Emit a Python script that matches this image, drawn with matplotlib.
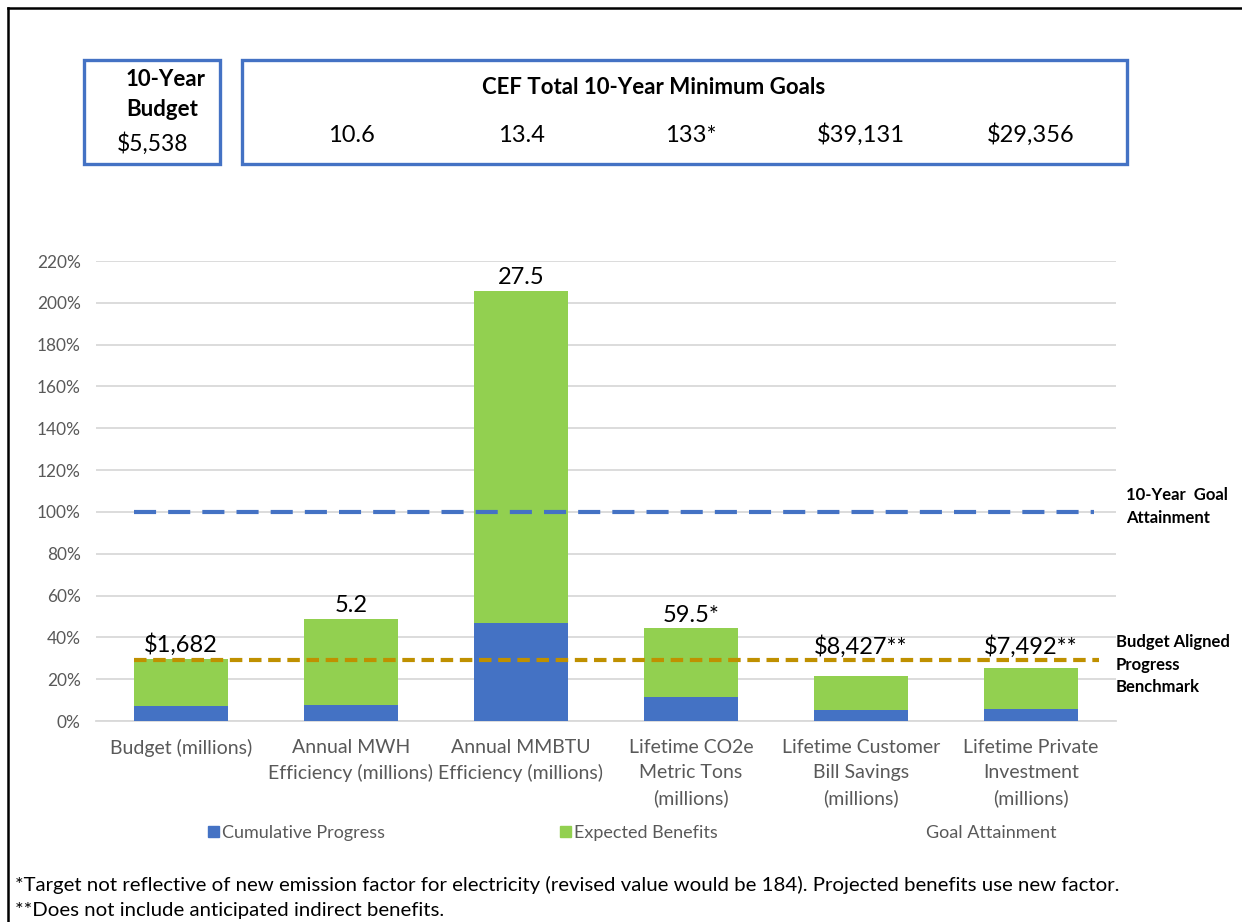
import matplotlib.pyplot as plt
import matplotlib.transforms as mtransforms
from matplotlib.patches import Patch, Rectangle
from matplotlib.lines import Line2D

plt.rcParams['font.family'] = ['Lato', 'DejaVu Sans']

W, H = 1242, 922

categories = ['Budget (millions)', 'Annual MWH\nEfficiency (millions)',
              'Annual MMBTU\nEfficiency (millions)', 'Lifetime CO2e\nMetric Tons\n(millions)',
              'Lifetime Customer\nBill Savings\n(millions)', 'Lifetime Private\nInvestment\n(millions)']
cumulative = [0.070, 0.076, 0.470, 0.113, 0.051, 0.056]
expected = [0.228, 0.413, 1.587, 0.330, 0.162, 0.198]
value_labels = ['$1,682', '5.2', '27.5', '59.5*', '$8,427**', '$7,492**']
goal_labels = ['10.6', '13.4', '133*', '$39,131', '$29,356']
budget_total = '$5,538'
goal_attainment = 1.0
benchmark = 0.29

blue = '#4472C4'
green = '#92D050'
gold = '#BF9000'
grey_text = '#595959'

fig = plt.figure(figsize=(W / 100, H / 100), dpi=100)
ax = fig.add_axes([96 / W, 1 - 721 / H, (1116 - 96) / W, (721 - 261) / H])

x = list(range(len(categories)))
width = 0.55
totals = [c + e for c, e in zip(cumulative, expected)]

ax.bar(x, cumulative, width, color=blue, zorder=3)
ax.bar(x, expected, width, bottom=cumulative, color=green, zorder=3)

# horizontal reference lines
ax.plot([x[0] - width / 2, x[-1] + 0.37], [goal_attainment] * 2, color=blue,
        lw=3, dashes=(5.3, 2.9), zorder=4)
ax.plot([x[0] - width / 2, x[-1] + 0.4], [benchmark] * 2, color=gold,
        lw=3, dashes=(3, 1.6), zorder=4)

for xi, t, lab in zip(x, totals, value_labels):
    ax.annotate(lab, (xi, max(t, benchmark)), xytext=(0, 2), textcoords='offset points',
                ha='center', va='bottom', fontsize=17, color='black', zorder=5)

ax.set_xlim(-0.5, len(categories) - 0.5)
ax.set_ylim(0, 2.2)
ax.set_yticks([i / 10 for i in range(0, 23, 2)])
ax.yaxis.set_major_formatter(plt.FuncFormatter(lambda v, p: f'{v * 100:.0f}%'))
ax.set_xticks(x)
ax.set_xticklabels(categories, linespacing=1.55)
ax.tick_params(axis='both', length=0, labelcolor=grey_text)
ax.tick_params(axis='x', pad=13, labelsize=14)
ax.tick_params(axis='y', pad=11, labelsize=12.4)
ax.grid(axis='y', color='#D9D9D9', lw=1.3, zorder=0)
for s in ['top', 'right', 'left']:
    ax.spines[s].set_visible(False)
ax.spines['bottom'].set_color('#D9D9D9')
ax.spines['bottom'].set_linewidth(1.3)

# right side labels
trans = mtransforms.blended_transform_factory(fig.transFigure, ax.transData)
ax.text(1126 / W, goal_attainment + 0.025, '10-Year  Goal\nAttainment', transform=trans,
        ha='left', va='center', fontsize=12, fontweight='bold', linespacing=1.5)
ax.text(1116 / W, benchmark - 0.02, 'Budget Aligned\nProgress\nBenchmark', transform=trans,
        ha='left', va='center', fontsize=12, fontweight='bold', linespacing=1.5)

# top boxes
fig.patches.append(Rectangle((84 / W, 1 - 164 / H), (220 - 84) / W, 104 / H,
                             transform=fig.transFigure, fill=False, ec=blue, lw=2.4))
fig.patches.append(Rectangle((242 / W, 1 - 164 / H), (1127 - 242) / W, 104 / H,
                             transform=fig.transFigure, fill=False, ec=blue, lw=2.4))
fig.text(166 / W, 1 - 80 / H, '10-Year', ha='center', va='center', fontsize=16, fontweight='bold')
fig.text(162 / W, 1 - 109 / H, 'Budget', ha='center', va='center', fontsize=16, fontweight='bold')
fig.text(153 / W, 1 - 144 / H, budget_total, ha='center', va='center', fontsize=16.5)
fig.text(654 / W, 1 - 87 / H, 'CEF Total 10-Year Minimum Goals', ha='center', va='center',
         fontsize=16, fontweight='bold')
top_trans = mtransforms.blended_transform_factory(ax.transData, fig.transFigure)
for xi, lab in zip(x[1:], goal_labels):
    ax.text(xi, 1 - 135 / H, lab, transform=top_trans, ha='center', va='center', fontsize=17)

# legend entries, spread out like the original
entries = [(Patch(color=blue), 'Cumulative Progress', 208),
           (Patch(color=green), 'Expected Benefits', 560),
           (Line2D([], [], color='none'), 'Goal Attainment', 912)]
for handle, label, xpos in entries:
    fig.legend([handle], [label], loc='center left', bbox_to_anchor=(xpos / W, 1 - 833 / H),
               frameon=False, fontsize=13, labelcolor=grey_text, handlelength=0.6,
               handleheight=0.6, handletextpad=0.2, borderpad=0, borderaxespad=0)

fig.text(15 / W, 1 - 885 / H,
         '*Target not reflective of new emission factor for electricity (revised value would be 184). '
         'Projected benefits use new factor.', ha='left', va='center', fontsize=14.7)
fig.text(15 / W, 1 - 910 / H, '**Does not include anticipated indirect benefits.',
         ha='left', va='center', fontsize=14.7)

# outer frame (left and top edges visible)
fig.add_artist(Line2D([8 / W, 8 / W], [0, 1 - 8 / H], transform=fig.transFigure, color='black', lw=1.8))
fig.add_artist(Line2D([8 / W, 1], [1 - 8 / H, 1 - 8 / H], transform=fig.transFigure, color='black', lw=1.8))

fig.savefig('out.png', dpi=100, facecolor='white')
